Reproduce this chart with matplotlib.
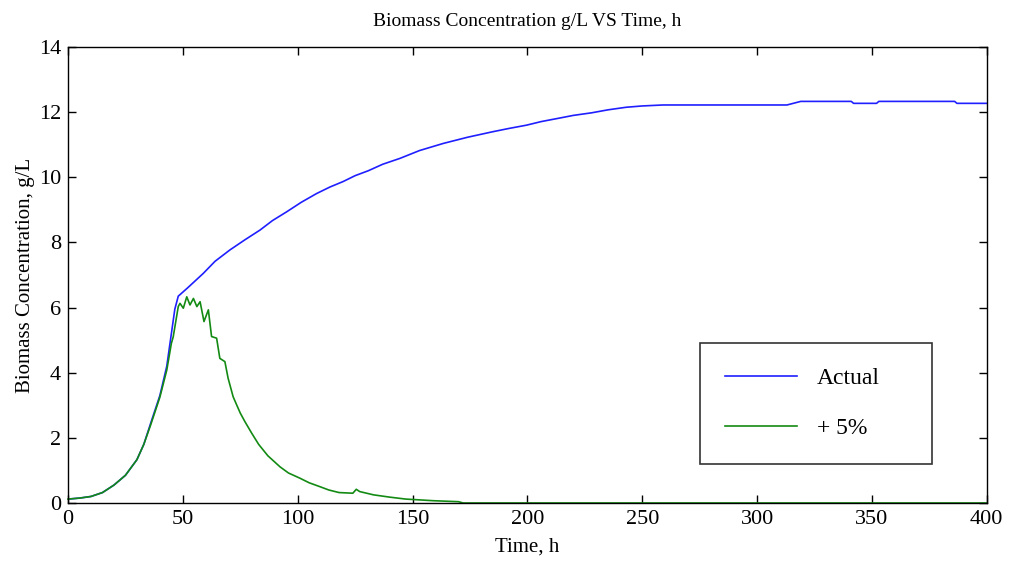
import matplotlib
matplotlib.use("Agg")
import matplotlib.pyplot as plt

plt.rcParams['font.family'] = ['Liberation Serif', 'DejaVu Serif']

# Actual biomass curve
t_actual = [0, 5, 10, 15, 20, 25, 30, 33, 36, 40, 43, 45, 46.5, 48, 52, 58.9,
            64, 70.5, 77, 83.6, 89, 95.2, 101.5, 108.2, 114, 119.8, 125, 130.7,
            137, 144.5, 153, 163.4, 174, 185, 192, 199.6, 206, 213.4, 220, 228,
            235, 243, 250, 259, 313, 319, 341, 342, 352, 353, 386, 387, 400]
x_actual = [0.12, 0.15, 0.2, 0.32, 0.55, 0.85, 1.33, 1.8, 2.45, 3.3, 4.2, 5.2,
            5.95, 6.35, 6.6, 7.05, 7.42, 7.77, 8.08, 8.38, 8.67, 8.94, 9.23,
            9.5, 9.7, 9.87, 10.05, 10.2, 10.4, 10.58, 10.82, 11.04, 11.23, 11.4,
            11.5, 11.6, 11.71, 11.81, 11.9, 11.98, 12.07, 12.15, 12.19, 12.22,
            12.22, 12.33, 12.33, 12.27, 12.27, 12.33, 12.33, 12.27, 12.27]

# +5% curve
t_plus = [0, 5, 10, 15, 20, 25, 30, 33, 36, 40, 43, 45, 45.8, 48, 48.75, 50.2,
          51.7, 53.1, 54.6, 56.1, 57.5, 59.2, 61.1, 62.5, 64.7, 66.1, 68.3,
          69.7, 71.9, 73.5, 75, 77, 78.5, 80, 83, 87, 92.3, 96, 101, 105, 109.7,
          113.5, 118, 124, 125.5, 127, 133, 140, 147, 159, 170, 172, 400]
x_plus = [0.12, 0.15, 0.2, 0.32, 0.55, 0.85, 1.33, 1.8, 2.4, 3.25, 4.08, 4.9,
          5.1, 6.03, 6.13, 5.98, 6.33, 6.08, 6.28, 6.03, 6.18, 5.57, 5.93, 5.11,
          5.06, 4.44, 4.34, 3.83, 3.26, 3.0, 2.76, 2.5, 2.32, 2.14, 1.8, 1.45,
          1.11, 0.92, 0.76, 0.62, 0.5, 0.4, 0.32, 0.3, 0.42, 0.35, 0.25, 0.18,
          0.12, 0.07, 0.04, 0.0, 0.0]

x_ticks = [0, 50, 100, 150, 200, 250, 300, 350, 400]
y_ticks = [0, 2, 4, 6, 8, 10, 12, 14]

fig = plt.figure(figsize=(10.09, 5.67), dpi=100)
ax = fig.add_axes([0.0674, 0.1129, 0.9106, 0.8042])

ax.plot(t_actual, x_actual, color="#1f1fff", linewidth=1.2, label="Actual")
ax.plot(t_plus, x_plus, color="#138a13", linewidth=1.2, label="+ 5%", clip_on=False)

ax.set_xlim(0, 400)
ax.set_ylim(0, 14)
ax.set_xticks(x_ticks)
ax.set_yticks(y_ticks)
ax.tick_params(direction="in", top=True, right=True, length=6, width=1,
               labelsize=16, pad=5)
for s in ax.spines.values():
    s.set_linewidth(1)

ax.set_title("Biomass Concentration g/L VS Time, h", fontsize=14, pad=15)
ax.set_xlabel("Time, h", fontsize=15, labelpad=6)
ax.set_ylabel("Biomass Concentration, g/L", fontsize=15, labelpad=3)

# legend box spans the given width; top edge at 0.351 of the axes height
leg = ax.legend(loc="upper left", bbox_to_anchor=(0.6877, 0.0855, 0.2524, 0.2655),
                mode="expand", fontsize=17,
                frameon=True, fancybox=False, edgecolor="black",
                handlelength=3.05, handletextpad=0.85, labelspacing=1.2,
                borderpad=1.05, borderaxespad=0)
leg.get_frame().set_linewidth(1.2)

fig.savefig("out.png", dpi=100)
